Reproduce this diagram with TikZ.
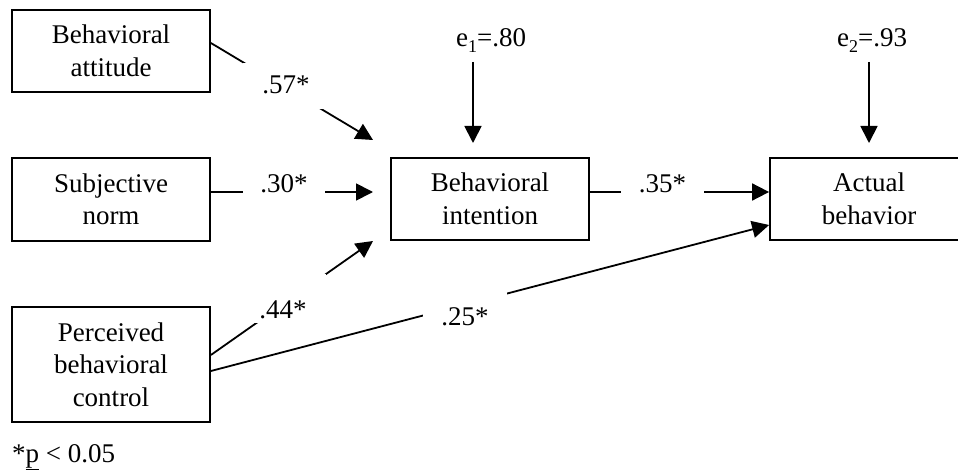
\documentclass[tikz,border=0pt]{standalone}
\usepackage{fontspec}
\setmainfont{Liberation Serif}
\usetikzlibrary{arrows.meta}
\newcommand\esub[1]{\raisebox{-6pt}{\fontsize{18}{18}\selectfont #1}}
\begin{document}
\begin{tikzpicture}[x=1pt,y=-1pt,
  every node/.style={font=\fontsize{27}{32.5}\selectfont},
  box/.style={draw, line width=1.8pt, minimum width=198pt, inner sep=0pt, align=center,
    execute at begin node={\rule{0pt}{22pt}}},
  conn/.style={line width=1.8pt},
  arr/.style={conn, -{Triangle[length=17pt,width=17pt]}},
  gap/.style={fill=white, inner sep=0pt}
]
\useasboundingbox (0,0) rectangle (958,473);
\clip (0,0) rectangle (958,473);

% boxes
\node[box, minimum height=82pt] (ba) at (111,51) {Behavioral\\attitude};
\node[box, minimum height=83pt] (sn) at (111,199.5) {Subjective\\norm};
\node[box, minimum height=115pt] (pbc) at (111,364.5) {Perceived\\behavioral\\control};
\node[box, minimum height=82pt] (bi) at (490,199) {Behavioral\\intention};
\node[box, minimum height=82pt] (ab) at (869,199) {Actual\\behavior};

% error terms
\node[anchor=base west, inner sep=0pt] (e1) at (456,47) {e\esub{1}=.80};
\node[anchor=base west, inner sep=0pt] (e2) at (837,47) {e\esub{2}=.93};
\coordinate (e1s) at (473,62);
\coordinate (e1t) at (473,143);
\coordinate (e2s) at (869,62);
\coordinate (e2t) at (869,143);
\draw[arr] (e1s) -- (e1t);
\draw[arr] (e2s) -- (e2t);

% tips that stop short of the intention box
\coordinate (t57) at (373,140);
\coordinate (t30) at (373,192);
\coordinate (t44) at (373,241);

% connectors
\draw[arr] ([yshift=8pt]ba.east) -- (t57);
\draw[arr] ([yshift=7.5pt]sn.east) -- (t30);
\draw[arr] ([yshift=9.5pt]pbc.east) -- (t44);
\draw[arr] ([yshift=-6.5pt]pbc.east) -- ([yshift=-26pt]ab.west);
\draw[arr] ([yshift=7pt]bi.east) -- ([yshift=7pt]ab.west);

% path coefficients
\node[gap, anchor=base, minimum width=86pt, text height=31pt, text depth=15pt] (l57) at (286,94) {.57*};
\node[gap, anchor=base, minimum width=82pt, text height=20pt, text depth=5pt] (l30) at (284,193) {.30*};
\node[gap, anchor=base, minimum width=86pt, text height=44pt, text depth=5pt] (l44) at (283,318) {.44*};
\node[gap, anchor=base, minimum width=84pt, text height=35pt, text depth=5pt] (l25) at (465,325) {.25*};
\node[gap, anchor=base, minimum width=83pt, text height=20pt, text depth=5pt] (l35) at (662.5,193) {.35*};

% note
\node[anchor=base west, inner sep=0pt] (note) at (12,462) {*\underline{p} < 0.05};
\end{tikzpicture}
\end{document}
